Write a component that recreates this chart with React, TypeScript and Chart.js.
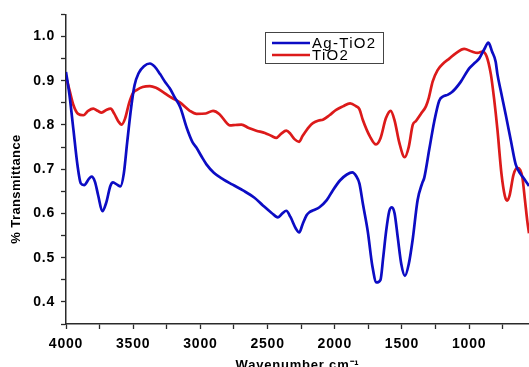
import React, { useEffect, useRef } from 'react';
import { Chart, registerables } from 'chart.js';

Chart.register(...registerables);

// ---- data ----
const agWavenumber = [
  4000, 3975, 3945, 3915, 3890, 3865, 3830, 3810, 3785, 3760, 3730, 3700, 3670, 3650, 3620, 3595,
  3570, 3545, 3515, 3490, 3460, 3420, 3375, 3340, 3300, 3260, 3228, 3190, 3150, 3100, 3060, 3030,
  2990, 2955, 2900, 2830, 2760, 2683, 2600, 2535, 2470, 2423, 2390, 2361, 2330, 2290, 2265, 2240,
  2210, 2188, 2160, 2114, 2060, 2015, 1960, 1910, 1870, 1840, 1817, 1790, 1755, 1720, 1690, 1660,
  1640, 1618, 1595, 1575, 1555, 1532, 1505, 1478, 1450, 1421, 1384, 1350, 1334, 1297, 1260, 1223,
  1190, 1161, 1130, 1100, 1062, 1000, 960, 926, 890, 857, 830, 803, 790, 767, 728, 690,
  654, 620, 590, 555,
];
const agTransmittance = [
  0.920, 0.870, 0.790, 0.710, 0.668, 0.664, 0.678, 0.683, 0.672, 0.640, 0.605, 0.625, 0.662, 0.670, 0.665, 0.661,
  0.690, 0.760, 0.840, 0.890, 0.917, 0.933, 0.939, 0.932, 0.915, 0.896, 0.883, 0.862, 0.840, 0.792, 0.762, 0.749,
  0.728, 0.711, 0.692, 0.677, 0.665, 0.652, 0.636, 0.618, 0.601, 0.591, 0.600, 0.606, 0.592, 0.566, 0.557, 0.575,
  0.596, 0.603, 0.607, 0.614, 0.630, 0.652, 0.675, 0.688, 0.693, 0.684, 0.668, 0.620, 0.560, 0.480, 0.444, 0.450,
  0.500, 0.560, 0.605, 0.614, 0.600, 0.547, 0.485, 0.459, 0.485, 0.540, 0.630, 0.668, 0.681, 0.745, 0.808, 0.855,
  0.865, 0.868, 0.874, 0.883, 0.898, 0.928, 0.940, 0.950, 0.970, 0.986, 0.966, 0.943, 0.915, 0.880, 0.823, 0.765,
  0.711, 0.690, 0.678, 0.662,
];

const tiWavenumber = [
  4000, 3975, 3945, 3910, 3871, 3835, 3797, 3765, 3735, 3700, 3668, 3640, 3610, 3586, 3560, 3530,
  3500, 3475, 3430, 3376, 3330, 3280, 3228, 3180, 3153, 3079, 3029, 2960, 2906, 2860, 2800, 2782,
  2740, 2695, 2640, 2584, 2520, 2470, 2435, 2400, 2361, 2330, 2300, 2265, 2240, 2188, 2163, 2120,
  2089, 2040, 1990, 1940, 1886, 1840, 1817, 1792, 1740, 1693, 1660, 1620, 1584, 1555, 1520, 1480,
  1450, 1420, 1396, 1360, 1322, 1300, 1272, 1235, 1190, 1148, 1100, 1037, 980, 938, 901, 870,
  839, 815, 790, 760, 735, 718, 700, 670, 641, 620, 604, 585, 567, 555,
];
const tiTransmittance = [
  0.909, 0.880, 0.845, 0.825, 0.822, 0.832, 0.837, 0.832, 0.828, 0.834, 0.837, 0.825, 0.808, 0.801, 0.815, 0.850,
  0.873, 0.879, 0.886, 0.888, 0.884, 0.875, 0.864, 0.856, 0.851, 0.832, 0.825, 0.826, 0.832, 0.825, 0.803, 0.799,
  0.800, 0.801, 0.793, 0.787, 0.782, 0.775, 0.771, 0.780, 0.787, 0.780, 0.768, 0.762, 0.775, 0.797, 0.804, 0.810,
  0.812, 0.822, 0.834, 0.842, 0.849, 0.842, 0.836, 0.812, 0.775, 0.756, 0.770, 0.815, 0.832, 0.810, 0.760, 0.727,
  0.750, 0.800, 0.809, 0.825, 0.842, 0.862, 0.898, 0.924, 0.940, 0.950, 0.962, 0.972, 0.966, 0.963, 0.966, 0.955,
  0.915, 0.860, 0.790, 0.690, 0.640, 0.629, 0.640, 0.688, 0.703, 0.698, 0.681, 0.630, 0.581, 0.555,
];

const seriesLabels = ['Ag-TiO2', 'TiO2'];
const seriesColors = ['#0c0cc4', '#dc1a1a'];

const xTickValues = [750, 1000, 1250, 1500, 1750, 2000, 2250, 2500, 2750, 3000, 3250, 3500, 3750, 4000];
const xTickLabels = ['', '1000', '', '1500', '', '2000', '', '2500', '', '3000', '', '3500', '', '4000'];
const yTickValues = [0.35, 0.4, 0.45, 0.5, 0.55, 0.6, 0.65, 0.7, 0.75, 0.8, 0.85, 0.9, 0.95, 1.0, 1.05];
const yTickLabels = ['', '0.4', '', '0.5', '', '0.6', '', '0.7', '', '0.8', '', '0.9', '', '1.0', ''];

const xTitle = 'Wavenumber cm\u207B\u00B9';
const yTitle = '% Transmittance';

const FONT = '"Liberation Sans", Arial, Helvetica, sans-serif';
const AXIS_COLOR = '#2a2a2a';

const spacingPlugin = {
  id: 'textSpacing',
  beforeDraw(chart: any) {
    chart.ctx.letterSpacing = '0.8px';
  },
};

const yTitlePlugin = {
  id: 'yTitleCustom',
  afterDraw(chart: any) {
    const ctx = chart.ctx;
    ctx.save();
    ctx.letterSpacing = '0.4px';
    ctx.translate(16.5, 189);
    ctx.rotate(-Math.PI / 2);
    ctx.font = `bold 13px ${FONT}`;
    ctx.fillStyle = '#000';
    ctx.textAlign = 'center';
    ctx.textBaseline = 'middle';
    ctx.fillText(yTitle, 0, 0);
    ctx.restore();
  },
};

const legendPlugin = {
  id: 'boxLegend',
  afterDraw(chart: any) {
    const ctx = chart.ctx;
    const left = 265, top = 32, width = 118, height = 31;
    ctx.save();
    ctx.strokeStyle = '#444';
    ctx.lineWidth = 1;
    ctx.strokeRect(left + 0.5, top + 0.5, width, height);
    chart.data.datasets.forEach((ds: any, i: number) => {
      const y = top + 11 + i * 12;
      ctx.strokeStyle = ds.borderColor;
      ctx.lineWidth = 2.6;
      ctx.beginPath();
      ctx.moveTo(left + 7, y);
      ctx.lineTo(left + 45, y);
      ctx.stroke();
      ctx.fillStyle = '#000';
      ctx.letterSpacing = '1.3px';
      ctx.font = `15px ${FONT}`;
      ctx.textAlign = 'left';
      ctx.textBaseline = 'middle';
      ctx.fillText(ds.label, left + 47, y + 0.5);
    });
    ctx.restore();
  },
};

export default function App() {
  const canvasRef = useRef<HTMLCanvasElement | null>(null);

  useEffect(() => {
    const canvas = canvasRef.current;
    if (!canvas) return;
    const agPoints = agWavenumber.map((w, i) => ({ x: w, y: agTransmittance[i] }));
    const tiPoints = tiWavenumber.map((w, i) => ({ x: w, y: tiTransmittance[i] }));

    const chart = new Chart(canvas, {
      type: 'line',
      data: {
        datasets: [
          {
            label: seriesLabels[0],
            data: agPoints,
            borderColor: seriesColors[0],
            backgroundColor: seriesColors[0],
            borderWidth: 2.7,
            pointRadius: 0,
            cubicInterpolationMode: 'monotone',
            fill: false,
          },
          {
            label: seriesLabels[1],
            data: tiPoints,
            borderColor: seriesColors[1],
            backgroundColor: seriesColors[1],
            borderWidth: 2.7,
            pointRadius: 0,
            cubicInterpolationMode: 'monotone',
            fill: false,
          },
        ],
      },
      options: {
        responsive: false,
        animation: false,
        layout: { padding: { top: 12, right: 0, bottom: 0, left: 0 } },
        plugins: {
          legend: { display: false },
          tooltip: { enabled: false },
        },
        scales: {
          x: {
            type: 'linear',
            reverse: true,
            min: 555,
            max: 4000,
            afterBuildTicks: (s: any) => {
              s.ticks = xTickValues.map((v) => ({ value: v }));
            },
            afterFit: (s: any) => {
              s.height = 53;
            },
            ticks: {
              autoSkip: false,
              maxRotation: 0,
              padding: 7,
              color: '#000',
              font: { family: FONT, size: 14, weight: 'bold' },
              callback: (v: any) => {
                const idx = xTickValues.indexOf(Number(v));
                return idx >= 0 ? xTickLabels[idx] : '';
              },
            },
            grid: {
              drawOnChartArea: false,
              drawTicks: true,
              tickLength: 5,
              tickColor: AXIS_COLOR,
              tickWidth: 1.3,
            },
            border: { display: true, color: AXIS_COLOR, width: 1.5 },
            title: {
              display: true,
              text: xTitle,
              color: '#000',
              font: { family: FONT, size: 13, weight: 'bold' },
              padding: { top: 2, bottom: 4 },
            },
          },
          y: {
            type: 'linear',
            min: 0.35,
            max: 1.05,
            afterBuildTicks: (s: any) => {
              s.ticks = yTickValues.map((v) => ({ value: v }));
            },
            afterFit: (s: any) => {
              s.width = 66;
            },
            ticks: {
              autoSkip: false,
              padding: 6,
              color: '#000',
              font: { family: FONT, size: 14, weight: 'bold' },
              callback: (v: any) => {
                const idx = yTickValues.indexOf(Number(v));
                return idx >= 0 ? yTickLabels[idx] : '';
              },
            },
            grid: {
              drawOnChartArea: false,
              drawTicks: true,
              tickLength: 5,
              tickColor: AXIS_COLOR,
              tickWidth: 1.3,
            },
            border: { display: true, color: AXIS_COLOR, width: 1.5 },
            title: { display: false },
          },
        },
      } as any,
      plugins: [spacingPlugin, yTitlePlugin, legendPlugin],
    });

    return () => {
      chart.destroy();
    };
  }, []);

  return (
    <div
      style={{
        position: 'fixed',
        left: 0,
        top: 0,
        width: 529,
        height: 367,
        overflow: 'hidden',
        background: '#fff',
      }}
    >
      <canvas ref={canvasRef} width={529} height={377} style={{ display: 'block', width: 529, height: 377 }} />
    </div>
  );
}
